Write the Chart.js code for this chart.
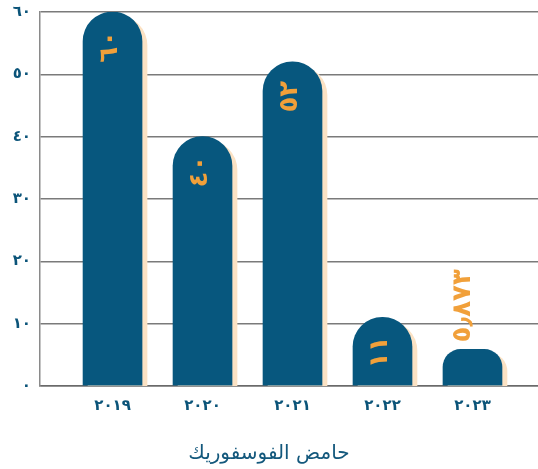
<!DOCTYPE html>
<html lang="ar">
<head>
    <meta charset="UTF-8">
    <title>حامض الفوسفوريك</title>
    <script src="https://cdn.jsdelivr.net/npm/chart.js"></script>
    <style>
        html, body { margin: 0; padding: 0; background: #ffffff; }
        #wrap { width: 538px; height: 469px; }
    </style>
</head>
<body>
    <div id="wrap"><canvas id="grafica" width="538" height="469"></canvas></div>

    <script>
        // Datos de la gráfica
        const years = ['٢٠١٩', '٢٠٢٠', '٢٠٢١', '٢٠٢٢', '٢٠٢٣'];
        const values = [60, 40, 52, 11, 5.873];
        const barLabels = ['٦٠', '٤٠', '٥٢', '١١', '٥٫٨٧٣'];
        const yTicks = ['٠', '١٠', '٢٠', '٣٠', '٤٠', '٥٠', '٦٠'];
        const axisTitle = 'حامض الفوسفوريك';

        const azul = '#07577e';
        const naranja = '#f1a03a';
        const sombra = '#fbe2c4';
        const textoAzul = '#0b5479';

        // Sombra beige de las barras + etiquetas giradas
        const barrasPlugin = {
            id: 'barras',
            beforeDatasetsDraw(chart) {
                const ctx = chart.ctx;
                ctx.save();
                ctx.shadowColor = sombra;
                ctx.shadowOffsetX = 5;
                ctx.shadowOffsetY = 4;
                ctx.shadowBlur = 0;
            },
            afterDatasetsDraw(chart) {
                const ctx = chart.ctx;
                ctx.restore();
                const meta = chart.getDatasetMeta(0);
                ctx.save();
                ctx.font = 'bold 26px "DejaVu Sans", sans-serif';
                ctx.fillStyle = naranja;
                ctx.textBaseline = 'middle';
                meta.data.forEach((bar, i) => {
                    const txt = barLabels[i];
                    const w = ctx.measureText(txt).width;
                    const alto = bar.base - bar.y;
                    ctx.save();
                    if (alto > w + 30) {
                        ctx.translate(bar.x - 2, bar.y + 19);
                        ctx.rotate(-Math.PI / 2);
                        ctx.textAlign = 'right';
                    } else {
                        ctx.translate(bar.x - 9, bar.y - 7);
                        ctx.rotate(-Math.PI / 2);
                        ctx.textAlign = 'left';
                    }
                    ctx.fillText(txt, 0, 0);
                    ctx.restore();
                });
                ctx.restore();
            }
        };

        new Chart(document.getElementById('grafica'), {
            type: 'bar',
            data: {
                datasets: [{
                    data: values.map((v, i) => ({ x: i, y: v })),
                    backgroundColor: azul,
                    barThickness: 59,
                    borderRadius: { topLeft: 30, topRight: 30, bottomLeft: 0, bottomRight: 0 },
                    borderSkipped: 'start'
                }]
            },
            options: {
                responsive: false,
                animation: false,
                layout: { padding: { top: 12, right: 0, left: 0, bottom: 0 } },
                plugins: {
                    legend: { display: false },
                    tooltip: { enabled: false },
                    title: {
                        display: true,
                        position: 'bottom',
                        text: axisTitle,
                        color: '#13587c',
                        font: { family: '"DejaVu Sans", sans-serif', size: 20, weight: 'normal' },
                        padding: { top: 0, bottom: 3 }
                    }
                },
                scales: {
                    x: {
                        type: 'linear',
                        offset: false,
                        min: -0.806,
                        max: 4.728,
                        afterBuildTicks(scale) {
                            scale.ticks = years.map((y, i) => ({ value: i }));
                        },
                        afterFit(scale) { scale.height = 56; },
                        grid: { display: false },
                        border: { display: true, color: '#6a6a6a', width: 1.5 },
                        ticks: {
                            autoSkip: false,
                            maxRotation: 0,
                            padding: 3,
                            color: textoAzul,
                            font: { family: '"DejaVu Sans", sans-serif', size: 15, weight: 'bold' },
                            callback: (v) => years[v]
                        }
                    },
                    y: {
                        min: 0,
                        max: 60,
                        afterFit(scale) {
                            scale.width = 40;
                            scale.paddingTop = 0;
                            scale.paddingBottom = 0;
                        },
                        grid: { color: '#7a7a7a', lineWidth: 1.5, drawTicks: false },
                        border: { display: true, color: '#8a8a8a', width: 1.5 },
                        ticks: {
                            stepSize: 10,
                            padding: 9,
                            color: textoAzul,
                            font: { family: '"DejaVu Sans", sans-serif', size: 15, weight: 'bold' },
                            callback: (v) => yTicks[v / 10]
                        }
                    }
                }
            },
            plugins: [barrasPlugin]
        });
    </script>
</body>
</html>
